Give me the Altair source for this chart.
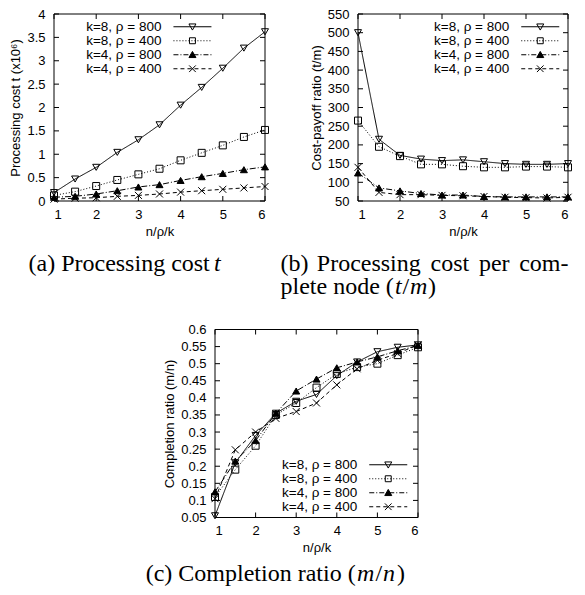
import altair as alt
import pandas as pd

# ---------------- data ----------------
x_values = [1, 1.5, 2, 2.5, 3, 3.5, 4, 4.5, 5, 5.5, 6]
series_names = ["k=8, ρ = 800", "k=8, ρ = 400", "k=4, ρ = 800", "k=4, ρ = 400"]
x_ticks = [1, 2, 3, 4, 5, 6]

cost_k8_800 = [0.18, 0.47, 0.72, 1.04, 1.31, 1.63, 2.05, 2.43, 2.84, 3.27, 3.62]
cost_k8_400 = [0.12, 0.20, 0.32, 0.45, 0.57, 0.69, 0.87, 1.03, 1.19, 1.37, 1.52]
cost_k4_800 = [0.08, 0.10, 0.15, 0.22, 0.30, 0.35, 0.44, 0.52, 0.59, 0.67, 0.73]
cost_k4_400 = [0.04, 0.06, 0.07, 0.10, 0.12, 0.15, 0.19, 0.22, 0.25, 0.28, 0.31]
cost_ticks = [0, 0.5, 1, 1.5, 2, 2.5, 3, 3.5, 4]

ratio_k8_800 = [500, 215, 172, 162, 158, 160, 155, 150, 148, 148, 150]
ratio_k8_400 = [265, 195, 170, 148, 148, 143, 140, 140, 142, 142, 140]
ratio_k4_800 = [125, 85, 77, 70, 66, 66, 62, 61, 61, 61, 61]
ratio_k4_400 = [140, 73, 67, 67, 65, 64, 62, 60, 59, 58, 60]
ratio_ticks = [50, 100, 150, 200, 250, 300, 350, 400, 450, 500, 550]

compl_k8_800 = [0.055, 0.21, 0.29, 0.355, 0.39, 0.41, 0.465, 0.505, 0.535, 0.548, 0.555]
compl_k8_400 = [0.11, 0.19, 0.26, 0.35, 0.385, 0.43, 0.47, 0.49, 0.50, 0.525, 0.548]
compl_k4_800 = [0.125, 0.215, 0.275, 0.355, 0.42, 0.455, 0.488, 0.505, 0.52, 0.538, 0.553]
compl_k4_400 = [0.105, 0.248, 0.30, 0.34, 0.36, 0.385, 0.438, 0.485, 0.51, 0.53, 0.555]
compl_ticks = [0.05, 0.1, 0.15, 0.2, 0.25, 0.3, 0.35, 0.4, 0.45, 0.5, 0.55, 0.6]

# ---------------- styles ----------------
FONT = "Liberation Sans"
SERIF = "Liberation Serif"
FS = 13
LEG_FS = 13.5
CAP_FS = 24
SYM_SIZE = 49
UNIT = (SYM_SIZE ** 0.5) / 2

dash_range = [[1, 0], [1, 2], [6, 2, 1, 2], [4, 3]]
shape_range = ["triangle-down", "square", "triangle-up", "M-1,-1L1,1M-1,1L1,-1"]
fill_range = ["transparent", "transparent", "black", "transparent"]

marker_paths = [
    "M-1,-0.8L1,-0.8L0,0.95Z",
    "M-0.85,-0.85L0.85,-0.85L0.85,0.85L-0.85,0.85Z",
    "M-1,0.8L1,0.8L0,-0.95Z",
    "M-0.95,-0.95L0.95,0.95M-0.95,0.95L0.95,-0.95",
]
legend_dashes = [None, [1, 2], [5, 2, 1, 2], [4, 3]]


def legend_path(marker, dash, half_len_px=19):
    L = half_len_px / UNIT
    parts = []
    if dash is None:
        parts.append(f"M{-L:.3f},0L{L:.3f},0")
    else:
        pat = [d / UNIT for d in dash]
        pos, i = -L, 0
        while pos < L - 1e-6:
            seg = pat[i % len(pat)]
            end = min(pos + seg, L)
            if i % 2 == 0:
                parts.append(f"M{pos:.3f},0L{end:.3f},0")
            pos += seg
            i += 1
    parts.append(marker)
    return "".join(parts)


sym_paths = [legend_path(m, d) for m, d in zip(marker_paths, legend_dashes)]
sym_expr = ""
for name, p in zip(series_names[:-1], sym_paths[:-1]):
    sym_expr += f"datum.value === '{name}' ? '{p}' : "
sym_expr += f"'{sym_paths[-1]}'"

perm_shape = [3, 2, 1, 0]
perm_dash = [1, 0, 3, 2]


def caption(text, x, y, italic=False):
    return alt.Chart(pd.DataFrame({"_": [0]})).mark_text(
        align="left", baseline="alphabetic", font=SERIF, fontSize=CAP_FS,
        fontStyle="italic" if italic else "normal", color="black",
    ).encode(x=alt.value(x), y=alt.value(y), text=alt.value(text))


def panel(ylists, ydomain, yticks, ytitle, W, H, leg_x, leg_y, caps):
    df = pd.DataFrame({
        "x": x_values * len(series_names),
        "y": [v for lst in ylists for v in lst],
        "series": [s for s in series_names for _ in x_values],
    })
    xenc = alt.X("x:Q", scale=alt.Scale(domain=[1, 6], nice=False, zero=False),
                 axis=alt.Axis(values=x_ticks, labelExpr="toString(datum.value)", title="n/ρ/k",
                               ticks=False, domain=False, grid=False, labelPadding=7, titlePadding=4,
                               labelOverlap=False))
    yenc = alt.Y("y:Q", scale=alt.Scale(domain=ydomain, nice=False, zero=False),
                 axis=alt.Axis(values=yticks, labelExpr="toString(datum.value)", title=ytitle,
                               ticks=False, domain=False, grid=False, labelPadding=9, titlePadding=4,
                               labelOverlap=False))
    leg = alt.Legend(title=None, orient="none", legendX=leg_x, legendY=leg_y, symbolSize=SYM_SIZE,
                     symbolType={"expr": sym_expr}, symbolStrokeWidth=1, symbolStrokeColor="black",
                     symbolOpacity=1, labelAlign="right", labelOffset={"expr": "-37.75"},
                     labelFont=FONT, labelFontSize=LEG_FS, labelColor="black",
                     rowPadding={"expr": "-1"}, padding=0)
    base = alt.Chart(df)
    lines = base.mark_line(color="black", strokeWidth=1).encode(
        x=xenc, y=yenc,
        strokeDash=alt.StrokeDash("series:N", scale=alt.Scale(
            domain=[series_names[i] for i in perm_dash], range=[dash_range[i] for i in perm_dash]),
            legend=None),
    )
    points = base.mark_point(size=SYM_SIZE, strokeWidth=1, opacity=1, stroke="black").encode(
        x=xenc, y=yenc,
        shape=alt.Shape("series:N", scale=alt.Scale(
            domain=[series_names[i] for i in perm_shape], range=[shape_range[i] for i in perm_shape]),
            legend=None),
        fill=alt.Fill("series:N", scale=alt.Scale(domain=series_names, range=fill_range), legend=leg),
    )
    xt = alt.Chart(pd.DataFrame({"x": x_ticks}))
    yt = alt.Chart(pd.DataFrame({"y": yticks}))
    tick_bottom = xt.mark_rule(color="black", strokeWidth=1).encode(
        x=xenc, y=alt.value(H), y2=alt.value(H - 5))
    tick_top = xt.mark_rule(color="black", strokeWidth=1).encode(
        x=xenc, y=alt.value(0), y2=alt.value(5))
    tick_left = yt.mark_rule(color="black", strokeWidth=1).encode(
        y=yenc, x=alt.value(0), x2=alt.value(5))
    tick_right = yt.mark_rule(color="black", strokeWidth=1).encode(
        y=yenc, x=alt.value(W), x2=alt.value(W - 5))
    frame = alt.Chart(pd.DataFrame({"_": [0]})).mark_rect(
        fillOpacity=0, stroke="black", strokeWidth=1).encode(
        x=alt.value(0), x2=alt.value(W), y=alt.value(0), y2=alt.value(H))
    return alt.layer(lines, points, tick_bottom, tick_top, tick_left, tick_right, frame, *caps
                     ).properties(width=W, height=H)


panel_a = panel([cost_k8_800, cost_k8_400, cost_k4_800, cost_k4_400], [0, 4], cost_ticks,
                "Processing cost t (x10⁶)", 211, 187, 131.7, 6,
                [caption("(a) Processing cost", -25.5, 257.3),
                 caption("t", 160, 257.3, italic=True)])

panel_b = panel([ratio_k8_800, ratio_k8_400, ratio_k4_800, ratio_k4_400], [50, 550], ratio_ticks,
                "Cost-payoff ratio (t/m)", 210, 187, 175.5, 6,
                [caption("(b)", -77.5, 257.3),
                 caption("Processing", -41.2, 257.3),
                 caption("cost", 72.5, 257.3),
                 caption("per", 120.9, 257.3),
                 caption("com-", 161.2, 257.3),
                 caption("plete node (", -77.5, 280.3),
                 caption("t", 37.0, 280.3, italic=True),
                 caption("/", 44.5, 280.3),
                 caption("m", 52.0, 280.3, italic=True),
                 caption(")", 70.0, 280.3)])

panel_c = panel([compl_k8_800, compl_k8_400, compl_k4_800, compl_k4_400], [0.05, 0.6], compl_ticks,
                "Completion ratio (m/n)", 203, 188, 166.5, 128.5,
                [caption("(c) Completion ratio (", -69.3, 251.5),
                 caption("m", 142, 251.5, italic=True),
                 caption("/", 160.5, 251.5),
                 caption("n", 168, 251.5, italic=True),
                 caption(")", 182, 251.5)])

spacer = alt.Chart(pd.DataFrame({"_": [0]})).mark_point(opacity=0).encode(
    x=alt.value(0), y=alt.value(0)).properties(width=90.7, height=10)

IND = dict(fill="independent", shape="independent", strokeDash="independent")

row1 = alt.hconcat(panel_a, panel_b, spacing=9).resolve_scale(**IND).resolve_legend(**IND)
row2 = alt.hconcat(spacer, panel_c, spacing=0).resolve_scale(**IND).resolve_legend(**IND)

chart = alt.vconcat(row1, row2, spacing=23.5).resolve_scale(**IND).resolve_legend(**IND).properties(
    padding={"left": 1, "top": 0, "right": 0, "bottom": 0},
    background="white",
).configure_view(stroke=None).configure_axis(
    labelFont=FONT, labelFontSize=FS, labelColor="black",
    titleFont=FONT, titleFontSize=FS, titleFontWeight="normal", titleColor="black",
)

chart.save("out.html", embed_options={"renderer": "svg", "actions": False})
